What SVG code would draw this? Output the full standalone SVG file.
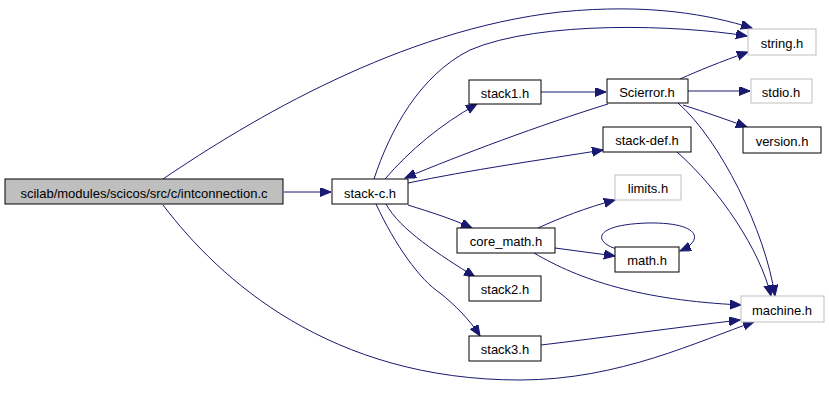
<svg xmlns="http://www.w3.org/2000/svg" width="829" height="403" viewBox="0 0 829 403">
<style>
.n rect{fill:#fff;stroke:#000;stroke-width:1}
.n.g rect{stroke:#bfbfbf}
.n.m rect{fill:#bfbfbf}
.n text{font-family:"Liberation Sans",Arial,sans-serif;font-size:13px;fill:#000;text-anchor:middle}
.e path{fill:none;stroke:#191970;stroke-width:1;marker-end:url(#ah)}
</style>
<defs>
<marker id="ah" markerUnits="userSpaceOnUse" markerWidth="13" markerHeight="10" refX="11" refY="4.5" orient="auto">
<path d="M0,0 L11,4.5 L0,9 Z" fill="#191970" stroke="#191970"/>
</marker>
</defs>
<rect width="829" height="403" fill="#fff"/>
<g id="edges" class="e">
<path d="M284,192 L331,192"/>
<path d="M163,179 C250,120 400,30 560,12 C650,3 710,15 752,28"/>
<path d="M163,205 C220,280 330,380 520,380 C620,380 700,340 754,322"/>
<path d="M374,179 C390,130 420,75 470,50 C540,20 680,25 747,36"/>
<path d="M385,179 C410,150 440,125 477,104"/>
<path d="M608,104 C540,125 460,155 405,178"/>
<path d="M408,183 C470,170 540,160 603,150"/>
<path d="M408,205 C430,212 450,218 472,228"/>
<path d="M386,204 C400,230 440,255 475,277"/>
<path d="M376,204 C395,245 420,280 440,293 C455,305 470,320 480,336"/>
<path d="M541,92 L606,92"/>
<path d="M680,79 C700,70 720,62 748,52"/>
<path d="M688,91 L750,91"/>
<path d="M683,105 C705,112 725,119 747,127"/>
<path d="M678,103 C720,140 765,230 775,296"/>
<path d="M677,152 C720,190 760,250 771,296"/>
<path d="M538,228 C560,218 585,208 615,200"/>
<path d="M555,248 C575,251 595,253 615,256"/>
<path d="M534,253 C580,280 640,300 741,305"/>
<path d="M617,249 C595,243 590,225 647,223 C700,222 705,240 680,251"/>
<path d="M541,345 C600,338 680,327 740,320"/>
</g>
<g id="main" class="n m"><rect x="5" y="179" width="278" height="25"/><text x="144" y="197.5">scilab/modules/scicos/src/c/intconnection.c</text></g>
<g id="stack-c" class="n"><rect x="332" y="179" width="76" height="25"/><text x="370" y="197.5">stack-c.h</text></g>
<g id="stack1" class="n"><rect x="469" y="80" width="72" height="24"/><text x="505" y="98">stack1.h</text></g>
<g id="Scierror" class="n"><rect x="607" y="79" width="81" height="24"/><text x="647" y="97">Scierror.h</text></g>
<g id="string" class="n g"><rect x="748" y="29" width="68" height="26"/><text x="782" y="48">string.h</text></g>
<g id="stdio" class="n g"><rect x="751" y="79" width="61" height="24"/><text x="781" y="97">stdio.h</text></g>
<g id="version" class="n"><rect x="743" y="127" width="78" height="26"/><text x="782" y="146">version.h</text></g>
<g id="stack-def" class="n"><rect x="603" y="127" width="88" height="25"/><text x="647" y="145">stack-def.h</text></g>
<g id="limits" class="n g"><rect x="615" y="175" width="66" height="25"/><text x="648" y="193">limits.h</text></g>
<g id="core_math" class="n"><rect x="457" y="228" width="98" height="25"/><text x="506" y="246">core_math.h</text></g>
<g id="math" class="n"><rect x="615" y="247" width="64" height="25"/><text x="647" y="265">math.h</text></g>
<g id="stack2" class="n"><rect x="469" y="276" width="72" height="25"/><text x="505" y="294">stack2.h</text></g>
<g id="stack3" class="n"><rect x="469" y="336" width="72" height="25"/><text x="505" y="354">stack3.h</text></g>
<g id="machine" class="n g"><rect x="741" y="296" width="83" height="26"/><text x="782" y="315">machine.h</text></g>
</svg>
